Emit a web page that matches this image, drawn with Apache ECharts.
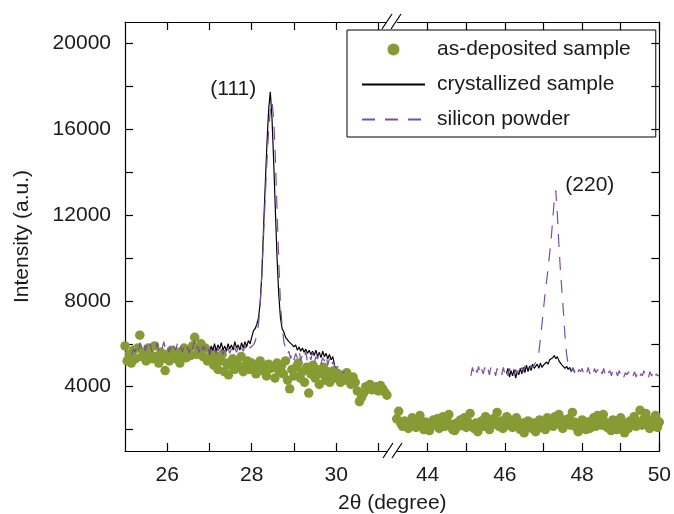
<!DOCTYPE html>
<html><head><meta charset="utf-8">
<script src="https://cdn.jsdelivr.net/npm/echarts@6/dist/echarts.min.js"></script>
<style>html,body{margin:0;padding:0;background:#fff}#c{width:674px;height:514px}</style>
</head><body><div id="c"></div>
<script>
// ---- axis ranges and ticks ----
const leftRange = [25, 31.25];
const rightRange = [43, 50];
const yRange = [1000, 21000];
const yTicks = [2000, 4000, 6000, 8000, 10000, 12000, 14000, 16000, 18000, 20000];
const yLabels = [4000, 8000, 12000, 16000, 20000];
const xTicksLeft = [26, 27, 28, 29, 30, 31];
const xLabelsLeft = [26, 28, 30];
const xTicksRight = [44, 45, 46, 47, 48, 49, 50];
const xLabelsRight = [44, 46, 48, 50];

// ---- as-deposited sample (dots), 2θ start / step and intensities ----
const depLeftStart = 25.00, depLeftStep = 0.05;
const depLeft = [
 5900,5200,5500,5100,5700,5300,5800,6400,5400,5600,
 5200,5800,5500,5300,5900,5400,5100,5600,5300,4750,
 5500,5200,5700,5400,5300,5600,5100,5500,5800,5350,
 5600,5450,5900,6300,5500,5700,6000,5400,5800,5200,
 5300,5600,5000,5400,4800,5200,5500,4700,5100,4550,
 5000,5300,4800,5100,4900,5400,4700,5000,5200,4800,
 5100,4900,4600,5000,5200,4750,4950,4500,5050,4850,
 4900,4400,5100,4700,4950,4600,5200,4300,3900,4800,
 4500,4900,5100,4400,4700,4200,4900,3700,4600,5000,
 4400,4800,4100,4600,4900,4300,4700,4200,4500,4750,
 4400,4600,4200,4500,4300,4650,4350,4100,4450,4200,
 3800,3300,3500,3700,4000,3900,4100,3850,3950,4000,
 3800,4050,3900,3750,3600];
const depRightStart = 43.20, depRightStep = 0.05;
const depRight = [
 2500,2850,2300,2150,2400,2200,2050,2300,2550,2250,
 2100,2400,2650,2200,2000,2350,2150,1950,2300,2450,
 2200,2500,2050,2300,2600,2150,2400,2700,2250,2000,
 1950,2300,2150,2450,2200,2550,2100,2350,2750,2200,
 2050,2300,1900,2250,2400,2150,2600,2200,2000,2350,
 2500,2250,2800,2150,2400,2050,2300,2600,2200,2450,
 2100,2350,2550,2200,2000,2300,1850,2150,2400,2250,
 2050,2300,1900,2200,2450,2100,2350,2000,2550,2250,
 2400,2150,2600,2300,2700,2200,2050,2450,2350,2500,
 2200,2800,2350,2100,1900,2250,2450,2150,2000,2350,
 2050,2300,2550,2150,2650,2400,2200,2700,2350,2100,
 2250,1950,2450,2200,2000,2350,2550,2150,1850,2300,
 2050,2400,2250,2600,2150,2350,2900,2200,2500,2750,
 2300,2050,2450,2250,2650,2100,2350];

// ---- crystallized sample (solid black line) ----
const crysLeftStart = 27.00, crysLeftStep = 0.04;
const crysLeft = [
 5500,5900,5700,6000,5650,5950,5750,6050,5700,5900,
 5650,6000,5750,5950,5700,6100,5800,5950,5700,6050,
 5800,6100,5850,6150,6000,6300,6600,6700,6900,7200,
 7900,9300,11400,13400,15300,16900,17750,16500,14500,12200,
 10000,8300,7200,6700,6550,6300,6200,6100,6150,5950,
 5850,5950,5700,5850,5650,5800,5600,5750,5550,5700,
 5500,5650,5450,5700,5400,5600,5350,5650,5400,5550,
 5300,5500,5250,5400,5000];
const crysRightStart = 46.04, crysRightStep = 0.04;
const crysRight = [
 4600,4850,4450,4750,4500,4800,4400,4700,4550,4850,
 4600,4900,4650,5000,4700,4950,4750,5050,4850,4900,
 5050,4850,5100,4900,5000,4950,5150,5050,5250,5200,
 5350,5450,5300,5400,5200,5150,5000,5050,4850,4950,
 4800,4900,4700,4850,4750];

// ---- silicon powder (dashed purple line) ----
const siLeftStart = 25.16, siLeftStep = 0.04;
const siLeft = [
 5500,5750,5600,5950,5700,6050,5800,6100,5650,5950,
 5700,6000,5600,5900,5750,6050,5650,5950,5800,6100,
 5700,5900,5600,5850,5550,5900,5700,6000,5650,5850,
 5600,5950,5700,5850,5550,6000,5750,6150,5650,5900,
 5600,6050,5700,5900,5500,5800,5550,5750,5450,5700,
 5550,5800,5450,5750,5500,5700,5450,5800,5550,5750,
 5500,5800,5600,5850,5550,5800,5650,5900,5700,5950,
 5800,
 5850,5950,6100,6400,6900,7800,9200,11000,12800,14500,
 15900,16900,17300,16500,14700,12200,9900,7900,6800,6100,
 5800,5500,5650,5300,5600,5250,5550,5350,5700,5200,
 5500,5300,5650,5150,5450,5250,5600,5100,5400,5300,
 5550,5050,5350,5200,5500,5000,5300,4950,5150,5000,
 4850,4950,4700,4800,4650,4700];
const siRightStart = 45.12, siRightStep = 0.04;
const siRight = [
 4500,4900,4600,4850,4650,4950,4550,4800,4600,4900,
 4650,4850,4550,4900,4700,4800,4500,4850,4650,4750,
 4550,4900,4600,4800,4500,4850,4650,4750,4550,4800,
 4600,4850,4650,4900,4700,4950,4750,4900,4800,5000,
 4900,5000,5150,5350,5600,6200,6900,7600,8300,8900,
 9500,10200,10900,11800,12700,13150,12000,10600,9400,8400,
 7400,6300,5500,5000,4850,
 4700,4900,4650,4850,4600,4800,4700,4850,4600,4800,
 4650,4900,4600,4750,4550,4850,4650,4800,4550,4750,
 4600,4850,4550,4800,4650,4750,4500,4800,4600,4700,
 4500,4750,4550,4700,4450,4650,4550,4700,4450,4600,
 4500,4700,4450,4650,4400,4600,4500,4750,4450,4600,
 4450,4700,4500,4650,4400,4600,4500,4550];

const peakLabels = ['(111)', '(220)'];
const names = ['as-deposited sample', 'crystallized sample', 'silicon powder'];

function pairs(start, step, vals) {
  return vals.map((v, i) => [+(start + i * step).toFixed(2), v]);
}

const GREEN = '#879b35', PURPLE = '#7a4fa0', INK = '#1a1a1a';
const FONT = '"Liberation Sans", Arial, Helvetica, sans-serif';
const FS = 21;
const lineAx = { show: true, lineStyle: { color: '#000', width: 1.2 } };
const DASH = [13, 10];

function xAx(grid, range, ticks, labels, pos) {
  return {
    type: 'value', gridIndex: grid, position: pos, min: range[0], max: range[1],
    axisLine: Object.assign({ onZero: false }, lineAx),
    axisTick: { show: true, inside: true, length: 8, customValues: ticks, lineStyle: { color: '#000', width: 1.2 } },
    axisLabel: pos === 'bottom'
      ? { show: true, customValues: labels, fontSize: FS, color: INK, fontFamily: FONT, margin: 14,
          formatter: v => String(v) }
      : { show: false },
    splitLine: { show: false }
  };
}
function yAx(grid, pos, showLabels) {
  return {
    type: 'value', gridIndex: grid, position: pos, min: yRange[0], max: yRange[1],
    axisLine: lineAx,
    axisTick: { show: true, inside: true, length: 8, customValues: yTicks, lineStyle: { color: '#000', width: 1.2 } },
    axisLabel: showLabels
      ? { show: true, customValues: yLabels, fontSize: FS, color: INK, fontFamily: FONT, margin: 14,
          formatter: v => String(v) }
      : { show: false },
    splitLine: { show: false },
    name: showLabels ? 'Intensity (a.u.)' : '',
    nameLocation: 'middle', nameGap: 92,
    nameTextStyle: { fontSize: FS, color: INK, fontFamily: FONT }
  };
}

const hideSym = { opacity: 0 };

const option = {
  animation: false,
  backgroundColor: '#fff',
  grid: [
    { left: 125, top: 22, width: 264, height: 429 },
    { left: 389, top: 22, width: 273, height: 429 }
  ],
  xAxis: [
    xAx(0, leftRange, xTicksLeft, xLabelsLeft, 'bottom'),
    xAx(0, leftRange, xTicksLeft, xLabelsLeft, 'top'),
    xAx(1, rightRange, xTicksRight, xLabelsRight, 'bottom'),
    xAx(1, rightRange, xTicksRight, xLabelsRight, 'top')
  ],
  yAxis: [ yAx(0, 'left', true), yAx(1, 'right', false) ],
  legend: {
    orient: 'vertical', left: 347, top: 30,
    itemWidth: 63, itemHeight: 12, itemGap: 14,
    padding: [9, 25, 7, 14],
    borderColor: '#000', borderWidth: 1,
    textStyle: { fontSize: FS, color: INK, fontFamily: FONT, padding: [0, 0, 0, 7] },
    data: [
      { name: names[0], icon: 'circle' },
      { name: names[1], itemStyle: hideSym },
      { name: names[2], itemStyle: hideSym }
    ]
  },
  series: [
    { name: names[0], type: 'scatter', xAxisIndex: 0, yAxisIndex: 0, symbolSize: 9.5,
      itemStyle: { color: GREEN, opacity: 1 }, data: pairs(depLeftStart, depLeftStep, depLeft), z: 1 },
    { name: names[0], type: 'scatter', xAxisIndex: 2, yAxisIndex: 1, symbolSize: 9.5,
      itemStyle: { color: GREEN, opacity: 1 }, data: pairs(depRightStart, depRightStep, depRight), z: 1 },
    { name: names[1], type: 'line', xAxisIndex: 0, yAxisIndex: 0, symbol: 'none',
      lineStyle: { color: '#000', width: 1.2 }, itemStyle: { color: '#000' },
      data: pairs(crysLeftStart, crysLeftStep, crysLeft), z: 2,
      markPoint: { symbol: 'circle', symbolSize: 0, itemStyle: { color: 'rgba(0,0,0,0)' },
        label: { show: true, position: 'inside', formatter: peakLabels[0], offset: [-37, -3], fontSize: FS, color: INK, fontFamily: FONT },
        data: [ { coord: [28.44, 17750] } ] } },
    { name: names[1], type: 'line', xAxisIndex: 2, yAxisIndex: 1, symbol: 'none',
      lineStyle: { color: '#000', width: 1.2 }, itemStyle: { color: '#000' },
      data: pairs(crysRightStart, crysRightStep, crysRight), z: 2 },
    { name: names[2], type: 'line', xAxisIndex: 0, yAxisIndex: 0, symbol: 'none',
      lineStyle: { color: PURPLE, width: 1.2, type: DASH }, itemStyle: { color: PURPLE },
      data: pairs(siLeftStart, siLeftStep, siLeft), z: 3 },
    { name: names[2], type: 'line', xAxisIndex: 2, yAxisIndex: 1, symbol: 'none',
      lineStyle: { color: PURPLE, width: 1.2, type: DASH }, itemStyle: { color: PURPLE },
      data: pairs(siRightStart, siRightStep, siRight), z: 3,
      markPoint: { symbol: 'circle', symbolSize: 0, itemStyle: { color: 'rgba(0,0,0,0)' },
        label: { show: true, position: 'inside', formatter: peakLabels[1], offset: [34, -5], fontSize: FS, color: INK, fontFamily: FONT },
        data: [ { coord: [47.32, 13150] } ] } }
  ],
  graphic: [
    { type: 'rect', z: 100, shape: { x: 387, y: 19, width: 10, height: 6 }, style: { fill: '#fff' } },
    { type: 'rect', z: 100, shape: { x: 387, y: 448, width: 10, height: 6 }, style: { fill: '#fff' } },
    { type: 'line', z: 101, shape: { x1: 382, y1: 29, x2: 392, y2: 14 }, style: { stroke: '#000', lineWidth: 1.2 } },
    { type: 'line', z: 101, shape: { x1: 391, y1: 29, x2: 401, y2: 14 }, style: { stroke: '#000', lineWidth: 1.2 } },
    { type: 'line', z: 101, shape: { x1: 383, y1: 458, x2: 393, y2: 443 }, style: { stroke: '#000', lineWidth: 1.2 } },
    { type: 'line', z: 101, shape: { x1: 392, y1: 458, x2: 402, y2: 443 }, style: { stroke: '#000', lineWidth: 1.2 } },
    { type: 'text', z: 101, left: 338, top: 493, style: { text: '2θ (degree)', fontSize: FS, fill: INK, fontFamily: FONT } }
  ]
};
const chart = echarts.init(document.getElementById('c'));
chart.setOption(option);
</script>
</body></html>
